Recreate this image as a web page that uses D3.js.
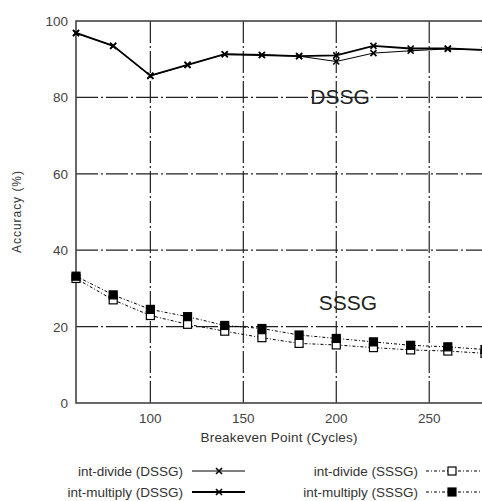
<!DOCTYPE html>
<html>
<head>
<meta charset="utf-8">
<script src="https://cdn.jsdelivr.net/npm/d3@7"></script>
<style>
  body { margin: 0; background: #fff; }
  svg { display: block; font-family: "Liberation Sans", Arial, sans-serif; }
  .tick-label { fill: #444; font-size: 13.5px; }
</style>
</head>
<body>
<script>
// breakeven points (cycles)
var cycles = [60, 80, 100, 120, 140, 160, 180, 200, 220, 240, 260, 280];

// accuracy (%) per series
var divideDSSG   = [96.8, 93.5, 85.6, 88.5, 91.3, 91.1, 90.8, 89.4, 91.6, 92.2, 92.7, 92.4];
var multiplyDSSG = [96.9, 93.5, 85.7, 88.5, 91.3, 91.1, 90.8, 91.0, 93.5, 92.8, 92.8, 92.4];
var divideSSSG   = [32.6, 27.0, 22.9, 20.6, 18.8, 17.1, 15.6, 15.2, 14.5, 13.9, 13.6, 13.0];
var multiplySSSG = [33.2, 28.3, 24.5, 22.6, 20.3, 19.5, 17.8, 16.9, 16.0, 15.1, 14.7, 14.0];

var xTicks = [100, 150, 200, 250];
var yTicks = [0, 20, 40, 60, 80, 100];

var series = [
  {name: "int-divide (DSSG)",   values: divideDSSG,   kind: "x",      width: 1,   dash: null},
  {name: "int-multiply (DSSG)", values: multiplyDSSG, kind: "x",      width: 1.8, dash: null},
  {name: "int-divide (SSSG)",   values: divideSSSG,   kind: "open",   width: 1,   dash: "3,2,1,2"},
  {name: "int-multiply (SSSG)", values: multiplySSSG, kind: "filled", width: 1,   dash: "3,2,1,2"}
];

var width = 482, height = 501;

var svg = d3.select("body").append("svg")
  .attr("width", width)
  .attr("height", height);

var x = d3.scaleLinear().domain([60, 280]).range([76, 485]);
var y = d3.scaleLinear().domain([0, 100]).range([403, 21]);

// grid lines
var grid = svg.append("g").attr("class", "grid")
  .attr("stroke", "#222")
  .attr("stroke-width", 1.2)
  .attr("stroke-dasharray", "22,3,2,3");

grid.selectAll("line.gx")
  .data(xTicks)
  .enter().append("line")
  .attr("x1", d => x(d)).attr("x2", d => x(d))
  .attr("y1", y(100)).attr("y2", y(0));

grid.selectAll("line.gy")
  .data(yTicks.filter(d => d > 0 && d < 100))
  .enter().append("line")
  .attr("x1", x(60)).attr("x2", x(280))
  .attr("y1", d => y(d)).attr("y2", d => y(d));

// frame
svg.append("rect")
  .attr("x", x(60)).attr("y", y(100))
  .attr("width", x(280) - x(60))
  .attr("height", y(0) - y(100))
  .attr("fill", "none")
  .attr("stroke", "#444")
  .attr("stroke-width", 1.6);

// tick labels
svg.append("g").selectAll("text")
  .data(xTicks)
  .enter().append("text")
  .attr("class", "tick-label")
  .attr("x", d => x(d))
  .attr("y", 423)
  .attr("text-anchor", "middle")
  .text(d => d);

svg.append("g").selectAll("text")
  .data(yTicks)
  .enter().append("text")
  .attr("class", "tick-label")
  .attr("x", 68)
  .attr("y", d => y(d) + 5)
  .attr("text-anchor", "end")
  .text(d => d);

// axis titles
svg.append("text")
  .attr("x", 279).attr("y", 442)
  .attr("text-anchor", "middle")
  .style("font-size", "13.5px").style("fill", "#333")
  .attr("textLength", 157)
  .text("Breakeven Point (Cycles)");

svg.append("text")
  .attr("transform", "translate(21," + 212 + ") rotate(-90)")
  .attr("text-anchor", "middle")
  .style("font-size", "12px").style("fill", "#333")
  .attr("textLength", 82)
  .text("Accuracy (%)");

// in-plot labels
svg.append("text")
  .attr("x", 340).attr("y", 104)
  .attr("text-anchor", "middle")
  .style("font-size", "21px").style("fill", "#222")
  .text("DSSG");

svg.append("text")
  .attr("x", 348).attr("y", 310)
  .attr("text-anchor", "middle")
  .style("font-size", "21px").style("fill", "#222")
  .text("SSSG");

function drawMarker(g, kind, cx, cy) {
  if (kind === "x") {
    var s = 3;
    g.append("path")
      .attr("d", "M" + (cx - s) + "," + (cy - s) + "L" + (cx + s) + "," + (cy + s) +
                 "M" + (cx - s) + "," + (cy + s) + "L" + (cx + s) + "," + (cy - s))
      .attr("stroke", "#000").attr("stroke-width", 1.6);
  } else {
    var r = 4;
    g.append("rect")
      .attr("x", cx - r).attr("y", cy - r)
      .attr("width", 2 * r).attr("height", 2 * r)
      .attr("fill", kind === "filled" ? "#000" : "#fff")
      .attr("stroke", "#000").attr("stroke-width", 1.2);
  }
}

var line = d3.line()
  .x(d => x(d[0]))
  .y(d => y(d[1]));

svg.append("clipPath").attr("id", "plot")
  .append("rect")
  .attr("x", x(60) - 6).attr("y", y(100) - 6)
  .attr("width", x(280) - x(60) + 12).attr("height", y(0) - y(100) + 12);

var plot = svg.append("g").attr("clip-path", "url(#plot)");

series.forEach(function(s) {
  var pts = cycles.map((c, i) => [c, s.values[i]]);
  plot.append("path")
    .datum(pts)
    .attr("d", line)
    .attr("fill", "none")
    .attr("stroke", "#000")
    .attr("stroke-width", s.width)
    .attr("stroke-dasharray", s.dash);
  var mg = plot.append("g");
  pts.forEach(p => drawMarker(mg, s.kind, x(p[0]), y(p[1])));
});

// legend
var legendPos = [
  {tx: 183, ly: 471, x1: 192, x2: 245, mx: 219},
  {tx: 183, ly: 492, x1: 192, x2: 245, mx: 219},
  {tx: 418, ly: 471, x1: 426, x2: 482, mx: 452},
  {tx: 418, ly: 492, x1: 426, x2: 482, mx: 452}
];

var legend = svg.append("g").attr("class", "legend");
series.forEach(function(s, i) {
  var p = legendPos[i];
  legend.append("text")
    .attr("x", p.tx).attr("y", p.ly + 5)
    .attr("text-anchor", "end")
    .style("font-size", "13.5px").style("fill", "#333")
    .text(s.name);
  legend.append("line")
    .attr("x1", p.x1).attr("x2", p.x2)
    .attr("y1", p.ly).attr("y2", p.ly)
    .attr("stroke", "#000")
    .attr("stroke-width", s.width)
    .attr("stroke-dasharray", s.dash);
  drawMarker(legend, s.kind, p.mx, p.ly);
});
</script>
</body>
</html>
